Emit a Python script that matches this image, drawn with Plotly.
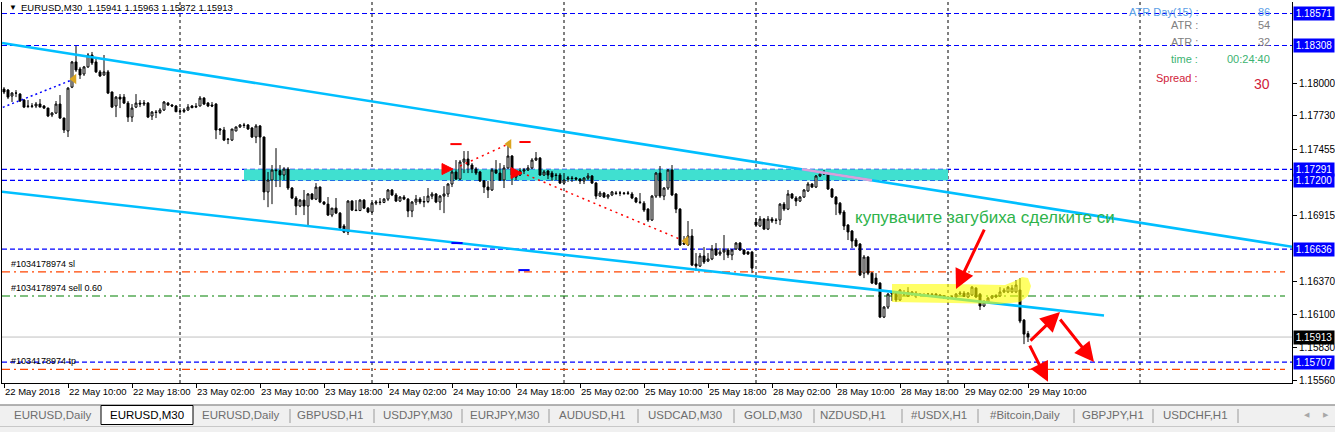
import plotly.graph_objects as go

# ---------------- data (EURUSD M30 candles, bar index 0 = 22 May 02:00) ----------------
opens = [
    1.17950, 1.17942, 1.17893, 1.17917, 1.17909, 1.17860, 1.17811, 1.17808, 1.17811, 1.17827,
    1.17811, 1.17794, 1.17737, 1.17753, 1.17827, 1.17712, 1.17606, 1.17966, 1.18173, 1.18115,
    1.18074, 1.18132, 1.18230, 1.18173, 1.18091, 1.18066, 1.18091, 1.17926, 1.17811, 1.17884,
    1.17884, 1.17835, 1.17720, 1.17802, 1.17835, 1.17827, 1.17835, 1.17729, 1.17761, 1.17758,
    1.17778, 1.17835, 1.17819, 1.17811, 1.17770, 1.17767, 1.17778, 1.17811, 1.17802, 1.17811,
    1.17876, 1.17835, 1.17819, 1.17827, 1.17622, 1.17614, 1.17539, 1.17531, 1.17606, 1.17639,
    1.17655, 1.17655, 1.17630, 1.17556, 1.17647, 1.17556, 1.17105, 1.17203, 1.17285, 1.17280,
    1.17244, 1.17293, 1.17137, 1.17055, 1.16989, 1.17038, 1.16989, 1.17088, 1.17046, 1.17145,
    1.17022, 1.17005, 1.16915, 1.16972, 1.16931, 1.16825, 1.16775, 1.17030, 1.16956, 1.16952,
    1.17038, 1.16972, 1.16940, 1.17013, 1.17022, 1.17019, 1.17046, 1.17121, 1.17080, 1.17030,
    1.17063, 1.17046, 1.16948, 1.17022, 1.17046, 1.17022, 1.17026, 1.17071, 1.17088, 1.17022,
    1.17071, 1.17088, 1.17170, 1.17269, 1.17211, 1.17351, 1.17375, 1.17326, 1.17293, 1.17269,
    1.17195, 1.17145, 1.17121, 1.17285, 1.17260, 1.17203, 1.17302, 1.17400, 1.17227, 1.17244,
    1.17277, 1.17285, 1.17302, 1.17367, 1.17383, 1.17244, 1.17277, 1.17260, 1.17244, 1.17244,
    1.17178, 1.17211, 1.17219, 1.17219, 1.17211, 1.17195, 1.17219, 1.17236, 1.17178, 1.17071,
    1.17096, 1.17063, 1.17080, 1.17096, 1.17096, 1.17096, 1.17093, 1.17088, 1.17055, 1.17022,
    1.17013, 1.16964, 1.16874, 1.17071, 1.17260, 1.17071, 1.17137, 1.17285, 1.17088, 1.16964,
    1.16685, 1.16669, 1.16743, 1.16513, 1.16496, 1.16579, 1.16537, 1.16554, 1.16636, 1.16595,
    1.16611, 1.16628, 1.16587, 1.16636, 1.16685, 1.16628, 1.16611, 1.16611, 1.16858, 1.16825,
    1.16882, 1.16800, 1.16882, 1.16874, 1.16874, 1.17005, 1.16964, 1.17088, 1.17055, 1.17030,
    1.17063, 1.17113, 1.17170, 1.17145, 1.17236, 1.17252, 1.17260, 1.17129, 1.17063, 1.17013,
    1.16940, 1.16833, 1.16784, 1.16710, 1.16677, 1.16438, 1.16570, 1.16438, 1.16397, 1.16356,
    1.16077, 1.16159, 1.16266, 1.16274, 1.16217, 1.16274, 1.16250, 1.16283, 1.16274, 1.16266,
    1.16258, 1.16266, 1.16266, 1.16266, 1.16258, 1.16250, 1.16233, 1.16242, 1.16242, 1.16266,
    1.16274, 1.16242, 1.16258, 1.16315, 1.16266, 1.16168, 1.16201, 1.16233, 1.16242, 1.16250,
    1.16283, 1.16283, 1.16283, 1.16283, 1.16299, 1.16052, 1.15941,
]
highs = [
    1.17966, 1.17950, 1.17926, 1.17942, 1.17917, 1.17868, 1.17860, 1.17835, 1.17844, 1.17868,
    1.17819, 1.17797, 1.17761, 1.17852, 1.17901, 1.17715, 1.17966, 1.18181, 1.18304, 1.18132,
    1.18140, 1.18246, 1.18255, 1.18206, 1.18107, 1.18230, 1.18107, 1.17930, 1.17893, 1.17909,
    1.17909, 1.17852, 1.17827, 1.17909, 1.17860, 1.17860, 1.17844, 1.17770, 1.17778, 1.17794,
    1.17852, 1.17844, 1.17827, 1.17819, 1.17794, 1.17794, 1.17827, 1.17819, 1.17835, 1.17893,
    1.17884, 1.17844, 1.17844, 1.17835, 1.17630, 1.17639, 1.17548, 1.17622, 1.17642, 1.17663,
    1.17672, 1.17663, 1.17639, 1.17663, 1.17655, 1.17560, 1.17269, 1.17326, 1.17465, 1.17326,
    1.17309, 1.17309, 1.17145, 1.17071, 1.17046, 1.17121, 1.17096, 1.17096, 1.17178, 1.17150,
    1.17030, 1.17063, 1.16972, 1.17055, 1.16940, 1.16841, 1.17038, 1.17038, 1.17038, 1.17046,
    1.17046, 1.16980, 1.17022, 1.17038, 1.17055, 1.17055, 1.17129, 1.17129, 1.17096, 1.17071,
    1.17080, 1.17055, 1.17030, 1.17080, 1.17063, 1.17071, 1.17137, 1.17105, 1.17096, 1.17080,
    1.17153, 1.17178, 1.17285, 1.17367, 1.17367, 1.17441, 1.17441, 1.17342, 1.17309, 1.17277,
    1.17203, 1.17195, 1.17302, 1.17367, 1.17342, 1.17326, 1.17498, 1.17408, 1.17277, 1.17302,
    1.17302, 1.17326, 1.17383, 1.17433, 1.17392, 1.17285, 1.17285, 1.17277, 1.17260, 1.17260,
    1.17260, 1.17236, 1.17236, 1.17228, 1.17219, 1.17227, 1.17260, 1.17244, 1.17187, 1.17113,
    1.17105, 1.17088, 1.17113, 1.17113, 1.17113, 1.17105, 1.17113, 1.17105, 1.17063, 1.17096,
    1.17030, 1.16972, 1.17080, 1.17269, 1.17318, 1.17145, 1.17293, 1.17326, 1.17096, 1.16972,
    1.16743, 1.16866, 1.16800, 1.16603, 1.16603, 1.16652, 1.16603, 1.16669, 1.16685, 1.16644,
    1.16751, 1.16644, 1.16636, 1.16693, 1.16693, 1.16636, 1.16620, 1.16620, 1.16890, 1.16907,
    1.16890, 1.16907, 1.16899, 1.16890, 1.17013, 1.17022, 1.17121, 1.17096, 1.17071, 1.17071,
    1.17129, 1.17187, 1.17178, 1.17244, 1.17260, 1.17285, 1.17269, 1.17137, 1.17071, 1.17022,
    1.16956, 1.16841, 1.16792, 1.16726, 1.16685, 1.16587, 1.16579, 1.16447, 1.16438, 1.16364,
    1.16168, 1.16274, 1.16291, 1.16283, 1.16307, 1.16299, 1.16323, 1.16291, 1.16291, 1.16274,
    1.16274, 1.16274, 1.16274, 1.16274, 1.16266, 1.16258, 1.16250, 1.16258, 1.16274, 1.16291,
    1.16291, 1.16283, 1.16332, 1.16323, 1.16274, 1.16217, 1.16242, 1.16258, 1.16266, 1.16323,
    1.16315, 1.16332, 1.16340, 1.16381, 1.16397, 1.16061, 1.15963,
]
lows = [
    1.17909, 1.17868, 1.17844, 1.17884, 1.17844, 1.17794, 1.17794, 1.17794, 1.17794, 1.17802,
    1.17786, 1.17720, 1.17720, 1.17745, 1.17704, 1.17589, 1.17556, 1.17958, 1.18091, 1.18033,
    1.18058, 1.18124, 1.18148, 1.18082, 1.18049, 1.18058, 1.17909, 1.17794, 1.17720, 1.17794,
    1.17827, 1.17680, 1.17680, 1.17794, 1.17802, 1.17811, 1.17712, 1.17696, 1.17712, 1.17745,
    1.17770, 1.17811, 1.17802, 1.17761, 1.17737, 1.17753, 1.17770, 1.17794, 1.17794, 1.17808,
    1.17819, 1.17802, 1.17802, 1.17539, 1.17573, 1.17523, 1.17498, 1.17523, 1.17603, 1.17630,
    1.17630, 1.17614, 1.17548, 1.17506, 1.17326, 1.17038, 1.16980, 1.17005, 1.17145, 1.17145,
    1.17203, 1.17121, 1.17046, 1.16915, 1.16980, 1.16915, 1.16833, 1.17038, 1.17038, 1.17013,
    1.16997, 1.16907, 1.16898, 1.16923, 1.16800, 1.16767, 1.16751, 1.16948, 1.16948, 1.16948,
    1.16964, 1.16931, 1.16931, 1.16997, 1.16997, 1.17013, 1.17030, 1.17071, 1.17022, 1.17022,
    1.17038, 1.16898, 1.16898, 1.16997, 1.17005, 1.16980, 1.17013, 1.17046, 1.17013, 1.16956,
    1.16931, 1.17063, 1.17145, 1.17203, 1.17203, 1.17260, 1.17260, 1.17260, 1.17244, 1.17187,
    1.17096, 1.17055, 1.17113, 1.17252, 1.17195, 1.17137, 1.17295, 1.17162, 1.17203, 1.17236,
    1.17252, 1.17277, 1.17293, 1.17359, 1.17236, 1.17236, 1.17211, 1.17195, 1.17203, 1.17170,
    1.17170, 1.17187, 1.17187, 1.17195, 1.17170, 1.17170, 1.17203, 1.17170, 1.17046, 1.17063,
    1.17055, 1.17046, 1.17071, 1.17080, 1.17071, 1.17080, 1.17080, 1.17046, 1.17013, 1.17005,
    1.16940, 1.16858, 1.16866, 1.17055, 1.17055, 1.17038, 1.17121, 1.17071, 1.16931, 1.16661,
    1.16669, 1.16661, 1.16496, 1.16455, 1.16488, 1.16513, 1.16529, 1.16545, 1.16579, 1.16579,
    1.16545, 1.16562, 1.16545, 1.16628, 1.16620, 1.16587, 1.16587, 1.16438, 1.16825, 1.16817,
    1.16792, 1.16792, 1.16850, 1.16841, 1.16833, 1.16948, 1.16956, 1.17046, 1.16989, 1.17022,
    1.17055, 1.17105, 1.17137, 1.17137, 1.17227, 1.17244, 1.17121, 1.17055, 1.16915, 1.16915,
    1.16792, 1.16710, 1.16644, 1.16652, 1.16414, 1.16397, 1.16422, 1.16348, 1.16340, 1.16069,
    1.16069, 1.16143, 1.16209, 1.16201, 1.16209, 1.16250, 1.16242, 1.16250, 1.16233, 1.16250,
    1.16250, 1.16250, 1.16250, 1.16242, 1.16233, 1.16225, 1.16217, 1.16225, 1.16233, 1.16258,
    1.16242, 1.16233, 1.16250, 1.16233, 1.16135, 1.16159, 1.16193, 1.16225, 1.16233, 1.16242,
    1.16274, 1.16274, 1.16274, 1.16274, 1.16027, 1.15855, 1.15872,
]
closes = [
    1.17926, 1.17884, 1.17917, 1.17917, 1.17852, 1.17802, 1.17808, 1.17811, 1.17827, 1.17802,
    1.17794, 1.17729, 1.17753, 1.17827, 1.17712, 1.17614, 1.17958, 1.18173, 1.18107, 1.18066,
    1.18132, 1.18230, 1.18165, 1.18091, 1.18058, 1.18091, 1.17917, 1.17802, 1.17884, 1.17868,
    1.17835, 1.17720, 1.17794, 1.17835, 1.17827, 1.17835, 1.17720, 1.17761, 1.17758, 1.17778,
    1.17844, 1.17819, 1.17811, 1.17764, 1.17767, 1.17778, 1.17802, 1.17797, 1.17808, 1.17876,
    1.17827, 1.17811, 1.17811, 1.17614, 1.17614, 1.17531, 1.17536, 1.17622, 1.17639, 1.17655,
    1.17652, 1.17622, 1.17556, 1.17647, 1.17556, 1.17105, 1.17203, 1.17285, 1.17280, 1.17244,
    1.17293, 1.17137, 1.17055, 1.16989, 1.17038, 1.16989, 1.17088, 1.17046, 1.17145, 1.17022,
    1.17005, 1.16915, 1.16972, 1.16931, 1.16808, 1.16775, 1.17030, 1.16956, 1.16952, 1.17038,
    1.16972, 1.16940, 1.17013, 1.17022, 1.17019, 1.17046, 1.17121, 1.17080, 1.17030, 1.17063,
    1.17046, 1.16948, 1.17022, 1.17046, 1.17022, 1.17026, 1.17071, 1.17088, 1.17022, 1.17071,
    1.17088, 1.17170, 1.17269, 1.17211, 1.17351, 1.17375, 1.17326, 1.17293, 1.17260, 1.17195,
    1.17145, 1.17121, 1.17285, 1.17260, 1.17203, 1.17302, 1.17400, 1.17244, 1.17244, 1.17277,
    1.17285, 1.17302, 1.17367, 1.17383, 1.17244, 1.17269, 1.17244, 1.17228, 1.17240, 1.17178,
    1.17203, 1.17219, 1.17215, 1.17211, 1.17195, 1.17219, 1.17236, 1.17178, 1.17071, 1.17096,
    1.17063, 1.17080, 1.17105, 1.17093, 1.17096, 1.17093, 1.17096, 1.17055, 1.17022, 1.17019,
    1.16956, 1.16874, 1.17071, 1.17260, 1.17071, 1.17137, 1.17285, 1.17080, 1.16964, 1.16669,
    1.16677, 1.16743, 1.16504, 1.16496, 1.16579, 1.16529, 1.16554, 1.16636, 1.16587, 1.16611,
    1.16628, 1.16587, 1.16628, 1.16685, 1.16628, 1.16595, 1.16595, 1.16479, 1.16833, 1.16882,
    1.16800, 1.16882, 1.16866, 1.16871, 1.17005, 1.16964, 1.17088, 1.17055, 1.17030, 1.17063,
    1.17121, 1.17170, 1.17145, 1.17236, 1.17252, 1.17260, 1.17129, 1.17063, 1.17005, 1.16931,
    1.16825, 1.16776, 1.16702, 1.16661, 1.16422, 1.16570, 1.16438, 1.16356, 1.16348, 1.16077,
    1.16159, 1.16266, 1.16283, 1.16217, 1.16299, 1.16266, 1.16283, 1.16266, 1.16270, 1.16258,
    1.16262, 1.16266, 1.16262, 1.16250, 1.16242, 1.16233, 1.16238, 1.16242, 1.16266, 1.16274,
    1.16246, 1.16274, 1.16323, 1.16242, 1.16168, 1.16201, 1.16233, 1.16250, 1.16250, 1.16283,
    1.16299, 1.16323, 1.16315, 1.16340, 1.16044, 1.15937, 1.15913,
]
bars = list(range(len(closes)))

tick_bars = [0, 16, 32, 48, 64, 80, 96, 112, 128, 144, 160, 176, 192, 208, 224, 240, 256]
tick_labels = ["22 May 2018", "22 May 10:00", "22 May 18:00", "23 May 02:00", "23 May 10:00",
               "23 May 18:00", "24 May 02:00", "24 May 10:00", "24 May 18:00", "25 May 02:00",
               "25 May 10:00", "25 May 18:00", "28 May 02:00", "28 May 10:00", "28 May 18:00",
               "29 May 02:00", "29 May 10:00"]
day_start_bars = [44, 92, 140, 188, 236, 284]

# visible price scale labels (the others are covered by the level boxes)
price_ticks = [1.18000, 1.17730, 1.17455, 1.16915, 1.16370, 1.16100, 1.15830, 1.15560]
level_prices = [1.18571, 1.18308, 1.17291, 1.17200, 1.16636, 1.15707]
bid_price = 1.15913

order_labels = ["#1034178974 sl", "#1034178974 sell 0.60", "#1034178974 tp"]
order_prices = [1.16449, 1.16250, 1.15648]

zone_bars = [60, 236]
zone_prices = [1.17200, 1.17291]

upper_trend_bars = [-0.5, 322.0]
upper_trend_prices = [1.18329, 1.16655]
lower_trend_bars = [-0.5, 275.0]
lower_trend_prices = [1.17107, 1.16090]

buy_hist_bars = [-0.3, 16.9]
buy_hist_prices = [1.17800, 1.18024]
sell_hist1_bars = [114.0, 125.5]
sell_hist1_prices = [1.17318, 1.17490]
sell_hist2_bars = [130.75, 169.5]
sell_hist2_prices = [1.17244, 1.16710]
close_mark_bars = [17.5, 126.25, 170.5]
close_mark_prices = [1.18033, 1.17498, 1.16702]
entry_mark_bars = [112.25, 129.5]
entry_mark_prices = [1.17293, 1.17260]
red_dash_bars = [113.0, 130.25]
red_dash_prices = [1.17498, 1.17515]
blue_dash_bars = [113.25, 130.0]
blue_dash_prices = [1.16685, 1.16463]

highlight_bars = [222, 236.5, 250.25, 252.75, 254.5, 256, 256.75, 256, 254, 249, 236.5, 222]
highlight_prices = [1.16348, 1.16348, 1.16340, 1.16373, 1.16406, 1.16398, 1.16332,
                    1.16250, 1.16201, 1.16184, 1.16193, 1.16201]

arrow_tail_bars = [245.25, 256.25, 263.75, 256.25]
arrow_tail_prices = [1.16808, 1.15872, 1.16069, 1.15855]
arrow_head_bars = [238.0, 264.0, 272.5, 261.0]
arrow_head_prices = [1.16307, 1.16118, 1.15707, 1.15545]

comment_text = "купувачите загубиха сделките си"
comment_bar = 212.25
comment_price = 1.16899

info_labels = ["ATR Day(15) :", "ATR :", "ATR :", "time :", "Spread :"]
info_values = ["86", "54", "32", "00:24:40", "30"]

tab_names = ["EURUSD,Daily", "EURUSD,M30", "EURUSD,Daily", "GBPUSD,H1", "USDJPY,M30",
             "EURJPY,M30", "AUDUSD,H1", "USDCAD,M30", "GOLD,M30", "NZDUSD,H1", "#USDX,H1",
             "#Bitcoin,Daily", "GBPJPY,H1", "USDCHF,H1"]

# ---------------- layout helpers ----------------
W, H = 1335, 432
PL, PR, PT, PB = 2, 1292, 2, 383
FONT = "Liberation Sans, Arial, sans-serif"


def px_x(px):
    return (px - PL) / (PR - PL)


def px_y(py):
    return (PB - py) / (PB - PT)


fig = go.Figure()

# trade history lines (dotted)
fig.add_trace(go.Scatter(x=buy_hist_bars, y=buy_hist_prices, mode="lines",
                         line=dict(color="#0000FF", width=1.5, dash="2px,3px"), hoverinfo="skip"))
for xs, ys in [(sell_hist1_bars, sell_hist1_prices), (sell_hist2_bars, sell_hist2_prices)]:
    fig.add_trace(go.Scatter(x=xs, y=ys, mode="lines",
                             line=dict(color="#FF0000", width=1.5, dash="2px,4px"), hoverinfo="skip"))

# candles
fig.add_trace(go.Candlestick(
    x=bars, open=opens, high=highs, low=lows, close=closes,
    increasing=dict(line=dict(color="black", width=1), fillcolor="white"),
    decreasing=dict(line=dict(color="black", width=1), fillcolor="black"),
    whiskerwidth=0, hoverinfo="skip"))

# trend lines
fig.add_trace(go.Scatter(x=upper_trend_bars, y=upper_trend_prices, mode="lines",
                         line=dict(color="#00BFFF", width=2.6), hoverinfo="skip"))
fig.add_trace(go.Scatter(x=lower_trend_bars, y=lower_trend_prices, mode="lines",
                         line=dict(color="#00BFFF", width=2.6), hoverinfo="skip"))

# part of the upper trend line inside the turquoise zone is rendered in plum
slope = (upper_trend_prices[1] - upper_trend_prices[0]) / (upper_trend_bars[1] - upper_trend_bars[0])
xa = upper_trend_bars[0] + (zone_prices[1] - upper_trend_prices[0]) / slope
xb = upper_trend_bars[0] + (zone_prices[0] - upper_trend_prices[0]) / slope
xb = min(xb, zone_bars[1])
fig.add_trace(go.Scatter(x=[xa, xb],
                         y=[upper_trend_prices[0] + slope * (xa - upper_trend_bars[0]),
                            upper_trend_prices[0] + slope * (xb - upper_trend_bars[0])],
                         mode="lines", line=dict(color="#D8A0D8", width=2.6), hoverinfo="skip"))

# markers of the trade history
fig.add_trace(go.Scatter(x=close_mark_bars, y=close_mark_prices, mode="markers",
                         marker=dict(symbol="triangle-left", size=9, color="#DAA520"), hoverinfo="skip"))
fig.add_trace(go.Scatter(x=entry_mark_bars, y=entry_mark_prices, mode="markers",
                         marker=dict(symbol="arrow-right", size=11, color="#FF0000",
                                     line=dict(color="#FF0000", width=1)), hoverinfo="skip"))
fig.add_trace(go.Scatter(x=red_dash_bars, y=red_dash_prices, mode="markers",
                         marker=dict(symbol="line-ew", size=8, line=dict(color="#FF0000", width=2)),
                         hoverinfo="skip"))
fig.add_trace(go.Scatter(x=blue_dash_bars, y=blue_dash_prices, mode="markers",
                         marker=dict(symbol="line-ew", size=8, line=dict(color="#0000FF", width=2)),
                         hoverinfo="skip"))

shapes = []
# turquoise zone (background)
shapes.append(dict(type="rect", xref="x", yref="y", x0=zone_bars[0], x1=zone_bars[1],
                   y0=zone_prices[0], y1=zone_prices[1], fillcolor="#40E0D0",
                   line=dict(width=0), layer="below"))
# vertical day grid
for b in day_start_bars:
    shapes.append(dict(type="line", xref="x", yref="paper", x0=b, x1=b, y0=0, y1=1,
                       line=dict(color="black", width=1, dash="3px,3px"), layer="below"))
# horizontal levels
for p in level_prices:
    shapes.append(dict(type="line", xref="paper", yref="y", x0=0, x1=1, y0=p, y1=p,
                       line=dict(color="#0000FF", width=1.2, dash="5px,3px"), layer="below"))
order_colors = ["#FF4500", "#008000", "#FF4500"]
for p, c in zip(order_prices, order_colors):
    shapes.append(dict(type="line", xref="paper", yref="y", x0=0, x1=px_x(1285), y0=p, y1=p,
                       line=dict(color=c, width=1.2, dash="8px,4px,2px,4px"), layer="below"))
shapes.append(dict(type="line", xref="paper", yref="y", x0=0, x1=1, y0=bid_price, y1=bid_price,
                   line=dict(color="#C0C0C0", width=1), layer="below"))
# yellow highlight (drawn over candles)
path = "M " + " L ".join(f"{b},{p}" for b, p in zip(highlight_bars, highlight_prices)) + " Z"
shapes.append(dict(type="path", xref="x", yref="y", path=path, fillcolor="#FFFF00",
                   opacity=0.6, line=dict(width=0), layer="above"))

# bottom tab bar
shapes.append(dict(type="rect", xref="paper", yref="paper", x0=px_x(0), x1=px_x(W),
                   y0=px_y(H), y1=px_y(405), fillcolor="#F0F0F0", line=dict(width=0)))
shapes.append(dict(type="line", xref="paper", yref="paper", x0=px_x(0), x1=px_x(W),
                   y0=px_y(405), y1=px_y(405), line=dict(color="#9A9A9A", width=1.5)))
shapes.append(dict(type="line", xref="paper", yref="paper", x0=px_x(0), x1=px_x(W),
                   y0=px_y(426.5), y1=px_y(426.5), line=dict(color="#C8C8C8", width=1)))
shapes.append(dict(type="rect", xref="paper", yref="paper", x0=px_x(101), x1=px_x(193),
                   y0=px_y(424.5), y1=px_y(405.5), fillcolor="white",
                   line=dict(color="black", width=1)))
for sx in [290, 374, 462, 549, 638, 734, 814, 902, 978, 1074, 1153, 1238]:
    shapes.append(dict(type="line", xref="paper", yref="paper", x0=px_x(sx), x1=px_x(sx),
                       y0=px_y(409), y1=px_y(423), line=dict(color="#9A9A9A", width=1)))

annotations = []
# header
annotations.append(dict(xref="paper", yref="paper", x=px_x(7), y=px_y(8), text="▼",
                        showarrow=False, xanchor="left", yanchor="middle",
                        font=dict(family=FONT, size=8, color="black")))
annotations.append(dict(xref="paper", yref="paper", x=px_x(19), y=px_y(8),
                        text=f"EURUSD,M30  {opens[-1]:.5f} {highs[-1]:.5f} {lows[-1]:.5f} {closes[-1]:.5f}",
                        showarrow=False, xanchor="left", yanchor="middle",
                        font=dict(family=FONT, size=9.5, color="black")))
# price boxes on the right axis
for p in level_prices:
    annotations.append(dict(xref="paper", yref="y", x=1, y=p, text=f"{p:.5f}", showarrow=False,
                            xanchor="left", yanchor="middle", xshift=1, bgcolor="#0000FF",
                            width=38, height=11, borderpad=1,
                            font=dict(family=FONT, size=10, color="white")))
annotations.append(dict(xref="paper", yref="y", x=1, y=bid_price, text=f"{bid_price:.5f}",
                        showarrow=False, xanchor="left", yanchor="middle", xshift=1,
                        bgcolor="black", width=38, height=11, borderpad=1,
                        font=dict(family=FONT, size=10, color="white")))
# order labels
for lab, p in zip(order_labels, order_prices):
    annotations.append(dict(xref="paper", yref="y", x=px_x(9), y=p, text=lab, showarrow=False,
                            xanchor="left", yanchor="bottom", yshift=1,
                            font=dict(family=FONT, size=9, color="black")))
# red arrows
for tb, tp, hb, hp in zip(arrow_tail_bars, arrow_tail_prices, arrow_head_bars, arrow_head_prices):
    annotations.append(dict(xref="x", yref="y", axref="x", ayref="y", x=hb, y=hp, ax=tb, ay=tp,
                            text="", showarrow=True, arrowhead=2, arrowsize=1.3, arrowwidth=3,
                            arrowcolor="#FF0000"))
# comment
annotations.append(dict(xref="x", yref="y", x=comment_bar, y=comment_price, text=comment_text,
                        showarrow=False, xanchor="left", yanchor="middle",
                        font=dict(family=FONT, size=17, color="#2EB34B")))
# info panel
info_colors = ["#5A9EE6", "#808080", "#808080", "#3CB371", "#D0223A"]
info_ys = [12, 25, 42, 59, 78]
value_ys = [12, 25, 42, 59, 84]
for lab, val, c, ly, vy in zip(info_labels, info_values, info_colors, info_ys, value_ys):
    annotations.append(dict(xref="paper", yref="paper", x=px_x(1200), y=px_y(ly), text=lab,
                            showarrow=False, xanchor="right", yanchor="middle",
                            font=dict(family=FONT, size=11, color=c)))
    annotations.append(dict(xref="paper", yref="paper", x=px_x(1272), y=px_y(vy), text=val,
                            showarrow=False, xanchor="right", yanchor="middle",
                            font=dict(family=FONT, size=14 if val == "30" else 11, color=c)))
# tabs
tab_centers = [53, 147, 241, 330, 417, 504, 592, 685, 773, 853, 939, 1025, 1113, 1195]
for i, (name, cx) in enumerate(zip(tab_names, tab_centers)):
    annotations.append(dict(xref="paper", yref="paper", x=px_x(cx), y=px_y(415.5), text=name,
                            showarrow=False, xanchor="center", yanchor="middle",
                            font=dict(family=FONT, size=11.5, color="black" if i == 1 else "#6E6E6E")))
for sym, sx in [("◀", 1307), ("▶", 1326)]:
    annotations.append(dict(xref="paper", yref="paper", x=px_x(sx), y=px_y(415.5), text=sym,
                            showarrow=False, xanchor="center", yanchor="middle",
                            font=dict(family="DejaVu Sans", size=7, color="#A8A8A8")))

fig.update_layout(
    width=W, height=H,
    margin=dict(l=PL, r=W - PR, t=PT, b=H - PB, autoexpand=False),
    paper_bgcolor="white", plot_bgcolor="white",
    showlegend=False, hovermode=False, dragmode=False,
    shapes=shapes, annotations=annotations,
    xaxis=dict(range=[-0.5, 322.0], rangeslider=dict(visible=False), showgrid=False,
               zeroline=False, showline=True, linecolor="black", linewidth=1,
               tickmode="array", tickvals=tick_bars, ticktext=tick_labels,
               ticks="outside", ticklen=4, tickcolor="black", tickangle=0,
               ticklabelposition="outside right",
               tickfont=dict(family=FONT, size=9.5, color="black"), fixedrange=True),
    yaxis=dict(range=[1.155354, 1.186654], side="right", showgrid=False, zeroline=False,
               showline=True, mirror=True, linecolor="black", linewidth=1,
               tickmode="array", tickvals=price_ticks, tickformat=".5f",
               ticks="outside", ticklen=4, tickcolor="black",
               tickfont=dict(family=FONT, size=10, color="black"), fixedrange=True),
)

fig.write_html("out.html", config={"displayModeBar": False, "staticPlot": True},
               post_script="document.body.style.margin='0';document.body.style.padding='0';"
                           "document.body.style.overflow='hidden';")
